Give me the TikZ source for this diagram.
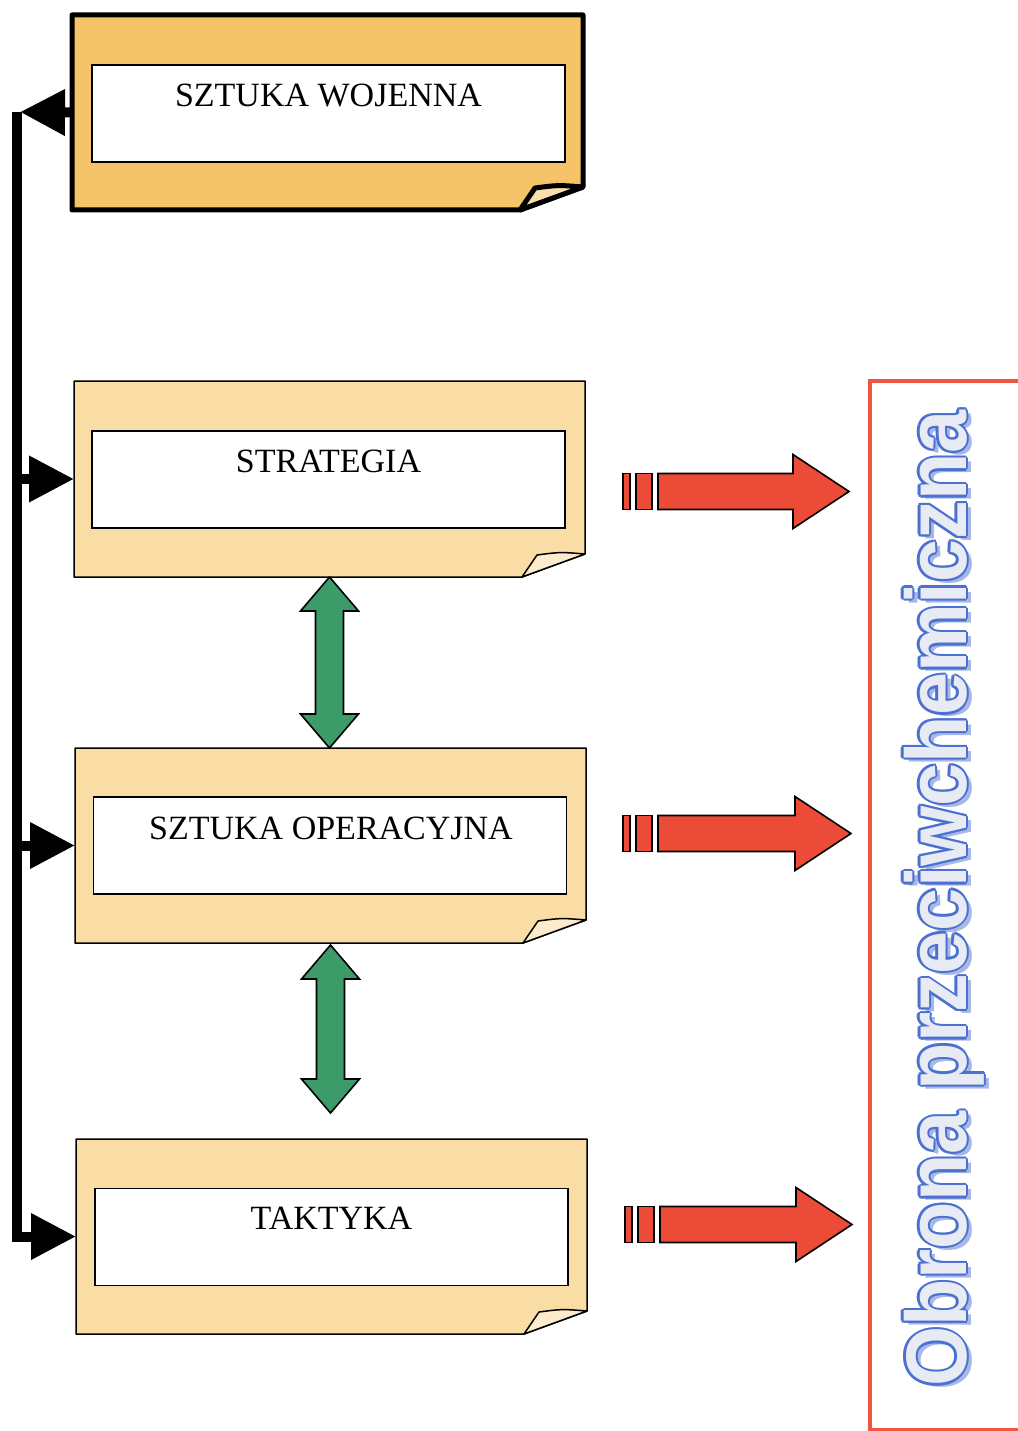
\documentclass[tikz,border=0pt]{standalone}
\usepackage{fontspec}
\setmainfont{Liberation Serif}
\newfontfamily\obfont[FakeStretch=0.9]{Liberation Sans}
\usetikzlibrary{arrows.meta,calc}

\definecolor{goldfill}{HTML}{F5C468}
\definecolor{peachfill}{HTML}{F9DDA4}
\definecolor{arrowred}{HTML}{EB4B37}
\definecolor{framered}{HTML}{EF5541}
\definecolor{arrowgreen}{HTML}{3C9B69}
\definecolor{inkblue}{HTML}{4A70D2}
\definecolor{shadeblue}{HTML}{A7B7E6}
\definecolor{paleface}{HTML}{E8EBF3}

% folded-corner sheet drawn around an outer box node
\newcommand\notebox[3]{%
  \filldraw[fill=#2, draw=black, line width=#3, line join=round]
    (#1.north west) -- (#1.north east) -- ($(#1.south east)+(0,-23)$)
    -- ($(#1.south east)+(-63,0)$) -- (#1.south west) -- cycle;
  \filldraw[fill=#2!55!white, draw=black, line width=#3, line join=round]
    ($(#1.south east)+(-63,0)$) -- ($(#1.south east)+(-48,-22)$)
    .. controls ($(#1.south east)+(-25,-25)$) .. ($(#1.south east)+(0,-23)$) -- cycle;
}
% vertical two-headed arrow between two points
\newcommand\greenarrow[2]{%
  \filldraw[greenarr] (#1) -- ($(#1)+(29,34)$) -- ($(#1)+(14,34)$)
    -- ($(#2)+(14,-34)$) -- ($(#2)+(29,-34)$) -- (#2)
    -- ($(#2)+(-29,-34)$) -- ($(#2)+(-14,-34)$)
    -- ($(#1)+(-14,34)$) -- ($(#1)+(-29,34)$) -- cycle;
}
% broken-tail block arrow pointing right
\newcommand\redarrow[2]{%
  \filldraw[redarr] ($(#1)+(0,-18)$) rectangle ($(#1)+(7,18)$);
  \filldraw[redarr] ($(#1)+(13,-18)$) rectangle ($(#1)+(29,18)$);
  \filldraw[redarr] ($(#1)+(35,-18)$) -- ($(#2)+(-56,-18)$) -- ($(#2)+(-56,-37)$)
    -- (#2) -- ($(#2)+(-56,37)$) -- ($(#2)+(-56,18)$) -- ($(#1)+(35,18)$) -- cycle;
}
\newcommand\obtext{Obrona przeciwchemiczna}

\begin{document}
\begin{tikzpicture}[x=1pt,y=-1pt,
  outerbox/.style={rectangle, inner sep=0pt, outer sep=0pt, minimum width=511pt, minimum height=#1},
  innerbox/.style={rectangle, draw=black, fill=white, line width=1.5pt, inner sep=0pt,
    minimum width=473pt, minimum height=97pt},
  title/.style={anchor=base, inner sep=0pt, font=\fontsize{34}{40}\selectfont},
  trunk/.style={draw=black, line width=10pt, line join=miter},
  tip/.style={-{Triangle[length=45pt,width=44pt]}},
  greenarr/.style={fill=arrowgreen, draw=black, line width=1.6pt, line join=miter},
  redarr/.style={fill=arrowred, draw=black, line width=1.6pt, line join=miter},
  vtext/.style={rotate=90, anchor=base west, inner sep=0pt,
    font=\obfont\bfseries\fontsize{86}{90}\selectfont},
]
\useasboundingbox (0,0) rectangle (1017,1431);
\fill[white] (0,0) rectangle (1017,1431);

% outer sheets
\node[outerbox=195pt] (wojenna-box)    at (327.5,112.5) {};
\node[outerbox=196pt] (strategia-box)  at (329.5,479)   {};
\node[outerbox=195pt] (operacja-box)   at (330.5,845.5) {};
\node[outerbox=195pt] (taktyka-box)    at (331.5,1236.5) {};
\notebox{wojenna-box}{goldfill}{5pt}
\notebox{strategia-box}{peachfill}{1.5pt}
\notebox{operacja-box}{peachfill}{1.5pt}
\notebox{taktyka-box}{peachfill}{1.5pt}

% white label panels
\node[innerbox] (wojenna)   at (328.5,113.5) {};
\node[innerbox] (strategia) at (328.5,479.5) {};
\node[innerbox] (operacja)  at (330,845.5)   {};
\node[innerbox] (taktyka)   at (331.5,1237)  {};
\node[title] (wojenna-t)   at ($(wojenna.north)+(0,42)$)   {SZTUKA WOJENNA};
\node[title] (strategia-t) at ($(strategia.north)+(0,42)$) {STRATEGIA};
\node[title] (operacja-t)  at ($(operacja.north)+(1,43)$)  {SZTUKA OPERACYJNA};
\node[title] (taktyka-t)   at ($(taktyka.north)+(0,42)$)   {TAKTYKA};

% black feed line on the left
\coordinate (trunk-top) at (16.5,112);
\coordinate (trunk-tip) at (20,112);
\draw[trunk, line cap=butt] (trunk-top) -- (16.5,1236.5) -- (taktyka-box.west) [tip];
\draw[trunk, tip] (wojenna-box.west) -- (trunk-tip);
\draw[trunk, tip] (16.5,479) -- (strategia-box.west);
\draw[trunk, tip] (16.5,845.5) -- (operacja-box.west);

% green links between levels
\coordinate (green1-top) at (strategia-box.south);
\coordinate (green1-bot) at (strategia-box.south |- operacja-box.north);
\greenarrow{green1-top}{green1-bot}
\coordinate (green2-top) at ($(operacja-box.south)+(0,2)$);
\coordinate (green2-bot) at ($(operacja-box.south |- taktyka-box.north)+(0,-26)$);
\greenarrow{green2-top}{green2-bot}

% red arrows to the side panel
\coordinate (r1) at (623,491.5);  \coordinate (r1-tip) at (849,491.5);
\coordinate (r2) at (623,833.5);  \coordinate (r2-tip) at (851,833.5);
\coordinate (r3) at (625,1224.5); \coordinate (r3-tip) at (852,1224.5);
\redarrow{r1}{r1-tip}
\redarrow{r2}{r2-tip}
\redarrow{r3}{r3-tip}

% side panel with vertical heading
\draw[framered, line width=4pt] (870,381) rectangle (1040,1430);
\coordinate (vt) at (966,1387);
\node[vtext, text=shadeblue] at ($(vt)+(5,4)$) {\obtext};
\foreach \dx/\dy in {2.2/0,-2.2/0,0/2.2,0/-2.2,1.6/1.6,1.6/-1.6,-1.6/1.6,-1.6/-1.6}
  \node[vtext, text=inkblue] at ($(vt)+(\dx,\dy)$) {\obtext};
\node[vtext, text=paleface] (heading) at (vt) {\obtext};
\end{tikzpicture}
\end{document}
